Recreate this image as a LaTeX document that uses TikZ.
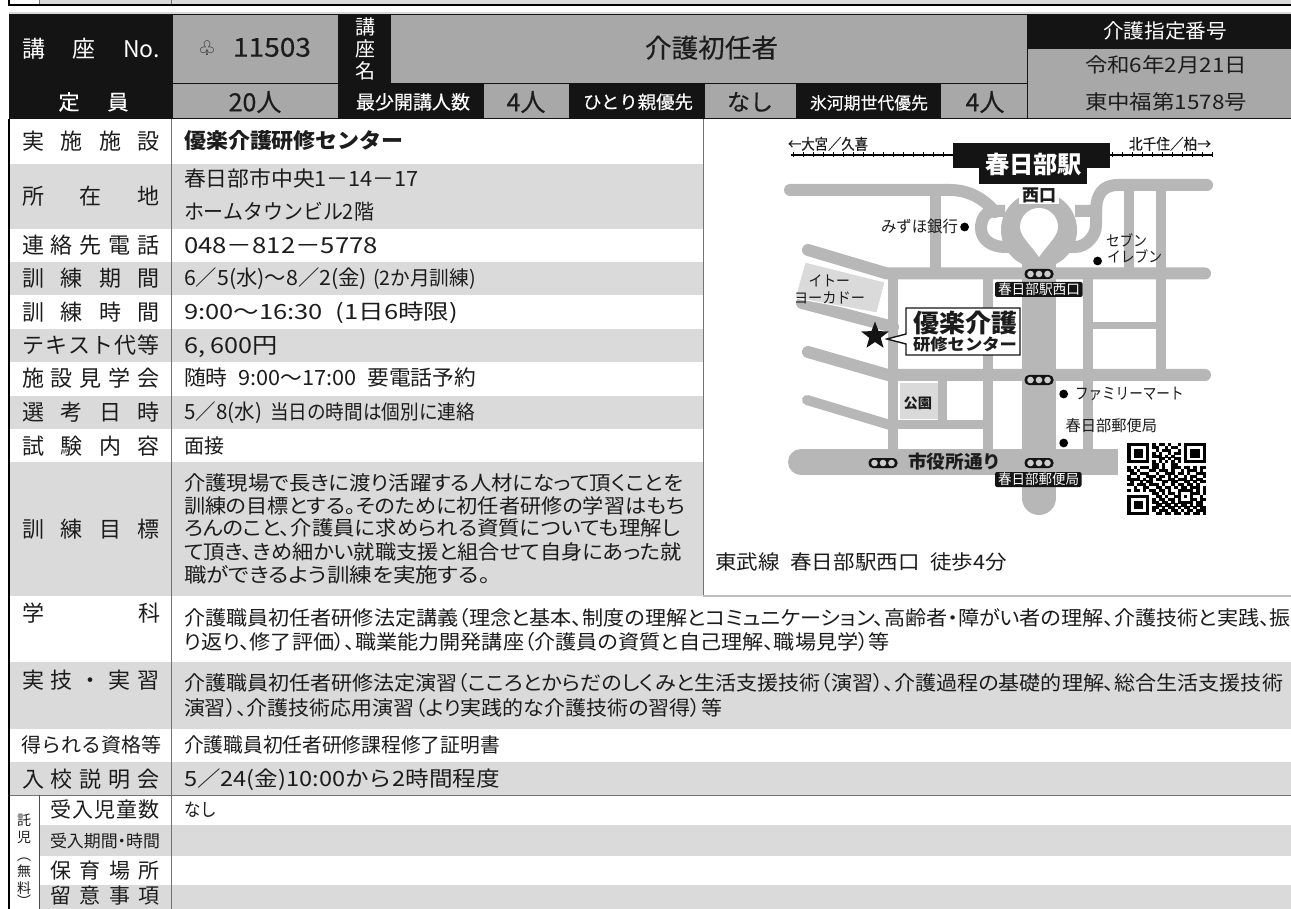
\documentclass[tikz,border=0pt]{standalone}
\usepackage{fontspec}
\setmainfont{Noto Sans CJK JP}
\newfontfamily\djv{DejaVu Sans}
\newfontfamily\pf{Noto Sans CJK JP}[RawFeature=+palt]
\newfontfamily\medf{Noto Sans CJK JP}[FakeBold=0.35]
\usetikzlibrary{shapes.geometric}
\definecolor{hk}{HTML}{141414}
\definecolor{hg}{HTML}{A8A8A8}
\definecolor{rowg}{HTML}{DADADA}
\definecolor{road}{HTML}{B7B7B7}
\definecolor{ink}{HTML}{1C1C1C}
\newcount\nid
\tikzset{txt/.style={inner sep=0pt,outer sep=0pt,text=ink},
 rd/.style={draw=road,line width=#1},
 rdr/.style={draw=road,line width=#1,line cap=round},
 rule/.style={draw=hk,line width=0.9pt},
 sepline/.style={draw=black!55,line width=0.8pt},
 blk/.style={fill=hk,rounded corners=2pt}}
\newcommand{\TF}[6][ink]{\global\advance\nid by 1
 \pgfmathsetmacro{\tfy}{#4+0.37*#5}
 \node[txt,text=#1,anchor=base west] (t\the\nid) at (#2,\tfy) {\fontsize{#5}{#5}\selectfont\resizebox{\dimexpr#3pt-#2pt\relax}{\height}{#6}};}
\newcommand{\TC}[5][ink]{\global\advance\nid by 1
 \pgfmathsetmacro{\tfy}{#3+0.37*#4}
 \node[txt,text=#1,anchor=base] (t\the\nid) at (#2,\tfy) {\fontsize{#4}{#4}\selectfont #5};}
\newcommand{\LB}[5]{\global\advance\nid by 1
 \pgfmathsetmacro{\tfy}{#3+0.37*#4}
 \node[txt,anchor=base west] (t\the\nid) at (#1,\tfy) {\fontsize{#4}{#4}\selectfont\makebox[\dimexpr#2pt-#1pt\relax][s]{#5}};}
\def\hs{\hfill}
\def\gap{\hspace{0.5em}}
\newcommand{\sig}[2]{\global\advance\nid by 1
 \fill[hk,rounded corners=4.5pt] (#1-14.5,#2-5) rectangle (#1+14.5,#2+5);
 \foreach \dx in {-8.5,0,8.5}{\fill[black!20] (#1+\dx,#2) circle[radius=3.3pt];}}
\newcommand{\dotm}[2]{\fill[black] (#1,#2) circle[radius=4.4pt];}
\newcount\qrc \newcount\qrr
\def\qrrow#1{\qrc=0 \qrscan#1\relax \global\advance\qrr by 1 }
\def\qrscan#1{\ifx#1\relax\else\if#11\fill[black] ({1127.3+3.14*\the\qrc},{443+2.88*\the\qrr}) rectangle ++(3.3,3.05);\fi\advance\qrc by 1 \expandafter\qrscan\fi}
\begin{document}
\begin{tikzpicture}[x=1pt,y=-1pt]
\useasboundingbox (0,0) rectangle (1291,909);
\clip (0,0) rectangle (1291,909);
\fill[white] (0,0) rectangle (1291,909);
% strip at the top
\fill[rowg] (40,0) rectangle (1291,4);
\draw[draw=black,line width=1.6pt] (9,0) -- (9,5) -- (1291,5);
\draw[sepline] (39,0) -- (39,4) (171,0) -- (171,4);
\fill[black!15] (9,12.5) rectangle (1291,14);
% header
\fill[hk] (9,14) rectangle (1291,119);
\fill[hg] (172.5,15) rectangle (338,83);
\fill[hg] (172.5,84.5) rectangle (338,118);
\fill[hg] (391,15) rectangle (1027,83);
\fill[hg] (484,84.5) rectangle (569,118);
\fill[hg] (705,84.5) rectangle (796,118);
\fill[hg] (941,84.5) rectangle (1027,118);
\fill[hg] (1028,49) rectangle (1291,118);
\LB{22}{160}{49}{23}{\color{white}講\hs 座\hs No.}
\node[txt,anchor=center] (clubs) at (207,48) {\fontsize{20}{20}\selectfont\djv ♧};
\TF{233}{311}{47}{26}{\medf 11503}
\TC[white]{365}{27}{20}{講}
\TC[white]{365}{49}{20}{座}
\TC[white]{365}{71}{20}{名}
\TF{645}{778}{48}{26}{\medf 介護初任者}
\TF[white]{1103}{1227}{31}{20}{介護指定番号}
\TF{1085}{1247}{65}{20}{令和6年2月21日}
\TF{1085}{1247}{102}{20}{東中福第1578号}
\TC[white]{69}{102}{21}{\medf 定}
\TC[white]{118}{102}{21}{\medf 員}
\TC{255}{102}{25}{\medf 20人}
\TF[white]{356}{470}{102}{19}{\medf 最少開講人数}
\TC{526}{102}{25}{\medf 4人}
\TF[white]{583}{693}{102}{18}{\medf ひとり親優先}
\TC{750}{102}{23}{\medf なし}
\TF[white]{810}{928}{103}{17}{\medf 氷河期世代優先}
\TC{985}{102}{25}{\medf 4人}
% body rows
\fill[rowg] (10,164) rectangle (703,229);
\fill[rowg] (10,262.5) rectangle (703,295.5);
\fill[rowg] (10,329) rectangle (703,362);
\fill[rowg] (10,396) rectangle (703,429);
\fill[rowg] (10,462) rectangle (703,596);
\fill[rowg] (10,662) rectangle (1291,729);
\fill[rowg] (10,762) rectangle (1291,795);
\fill[rowg] (39,825) rectangle (1291,856);
\fill[rowg] (39,885) rectangle (1291,909);
% map roads
\draw[rdr=12pt] (790,190) -- (950,190) .. controls (970,190) and (985,200) .. (995,212);
\draw[rdr=12pt] (1207,185) -- (1118,185) .. controls (1102,185) and (1096,195) .. (1096,212);
\draw[rd=11pt] (935,190) -- (935,270);
\draw[rd=10pt] (1129,186) -- (1129,273);
\draw[rd=10pt] (1161,186) -- (1161,375);
\draw[rd=10pt] (1087.5,273) -- (1087.5,450);
\draw[rd=10pt] (893,273) -- (893,450);
\draw[rd=10pt] (987.5,273) -- (987.5,450);
\draw[rd=7pt] (1087,326) -- (1161,326);
\draw[rdr=12pt] (808,250) -- (887,273.5) -- (1205,273.5);
\draw[rdr=12pt] (802,303) -- (893,327);
\draw[rdr=12pt] (808,352) -- (888,375) -- (1205,375);
\draw[rdr=10pt] (807,400) -- (890,425);
\draw[rd=9pt] (890,424.5) -- (987,424.5);
\draw[rd=9pt] (942,381) -- (942,420);
\draw[rdr=34pt] (1039,260) -- (1039,498);
\draw[rdr=26pt] (801,462) -- (900,462);
\fill[road] (800,449) rectangle (1118,475);
\fill[road] (1039,230) circle[radius=38pt];
\draw[rd=12pt] (1005,211) -- (995,211) .. controls (985,211) and (981,220) .. (981,228) .. controls (981,240) and (992,247) .. (1005,247) -- (1030,247);
\draw[rd=12pt] (1075,211) -- (1096,211) -- (1096,225) .. controls (1096,236) and (1086,247) .. (1075,247) -- (1040,247);
\fill[white] (1039,257) .. controls (1030,244) and (1020,236) .. (1020,227) .. controls (1020,216) and (1029,208) .. (1039,208) .. controls (1049,208) and (1058,216) .. (1058,227) .. controls (1058,236) and (1048,244) .. (1039,257) -- cycle;
\fill[rowg] (900,383) rectangle (937.5,419);
\fill[rowg,draw=white,line width=1pt] (805,262) -- (885,282) -- (877,313) -- (795,298) -- cycle;
% railway and station
\draw[black,line width=1.4pt] (790.5,155) -- (1212,155);
\foreach \tx in {793,803,...,953}{\draw[black,line width=1pt] (\tx,152.5) -- (\tx,157.5);}
\foreach \tx in {1112,1122,...,1212}{\draw[black,line width=1pt] (\tx,152.5) -- (\tx,157.5);}
\fill[hk] (952.5,143) rectangle (1110,168);
\fill[hk] (979,168) rectangle (1087,184);
\TF[white]{985}{1082}{165}{24}{\bfseries 春日部駅}
\fill[white] (1019,187) rectangle (1059,204);
\TF{1022}{1056}{195.5}{17}{\bfseries 西口}
\TF{788}{868}{144}{15}{\medf ←大宮／久喜}
\TF{1129}{1211}{144}{15}{\medf 北千住／柏→}
% landmarks
\TF{881}{958}{227}{16}{みずほ銀行}
\dotm{964.6}{227}
\TF{1106}{1147}{241}{15}{セブン}
\TF{1107}{1162}{257}{15}{イレブン}
\dotm{1097.6}{261}
\TF{808.5}{850}{281}{15}{イトー}
\TF{794}{865}{298}{15}{ヨーカドー}
\dotm{1063.7}{394}
\TF{1075}{1183.6}{394}{16}{ファミリーマート}
\TF{1065.6}{1157}{426}{15.5}{春日部郵便局}
\dotm{1063.7}{443}
\TF{903.5}{932}{403}{14}{\bfseries 公園}
\TF{908}{1001.5}{462}{18}{\bfseries 市役所通り}
\sig{1039}{274}
\sig{1039}{380}
\sig{883}{463}
\sig{1039}{463}
\fill[blk] (995,282) rectangle (1082.6,297);
\TF[white]{998}{1080}{289.5}{14}{春日部駅西口}
\fill[blk] (995,472) rectangle (1081.5,487);
\TF[white]{998}{1079}{479.5}{14}{春日部郵便局}
% callout and star
\draw[fill=white,draw=hk,line width=1.4pt] (906,308) -- (1020,308) -- (1020,355) -- (906,355) -- (906,344) -- (887,339) -- (906,334) -- cycle;
\TF{913}{1017}{323}{25}{\bfseries 優楽介護}
\TF{913}{1017}{345}{16}{\bfseries 研修センター}
\node[star,star points=5,star point ratio=2.4,fill=hk,draw=none,inner sep=0pt,minimum size=29pt] (starmark) at (875,336) {};
% QR
\qrrow{1111111 0 101101001 0 1111111}
\qrrow{1000001 0 110010110 0 1000001}
\qrrow{1011101 0 010111001 0 1011101}
\qrrow{1011101 0 101001011 0 1011101}
\qrrow{1011101 0 111010100 0 1011101}
\qrrow{1000001 0 001101011 0 1000001}
\qrrow{1111111 0 101010101 0 1111111}
\qrrow{00000000 110100110 00000000}
\qrrow{1010111011010011101101011}
\qrrow{1101000110111010010111010}
\qrrow{0110111001001110110100111}
\qrrow{1001001110110101001011001}
\qrrow{1111010101100110111010110}
\qrrow{0100101100011011001101011}
\qrrow{1101110111010010110110100}
\qrrow{0010011001101101011011101}
\qrrow{1011010110110100 11111 0101}
\qrrow{00000000 11010110 10001 1101}
\qrrow{1111111 0 01101001 10101 0010}
\qrrow{1000001 0 10110110 10001 1011}
\qrrow{1011101 0 11011010 11111 0110}
\qrrow{1011101 0 01101101011010110}
\qrrow{1011101 0 11010110101101011}
\qrrow{1000001 0 10111011010110111}
\qrrow{1111111 0 01101101101101101}
\TF{715}{1007}{562}{20}{東武線\gap 春日部駅西口\gap 徒歩4分}
% rules
\draw[draw=black,line width=1.6pt] (9,119) -- (9,909);
\draw[sepline] (171,119) -- (171,909);
\draw[sepline] (703,119) -- (703,596);
\draw[draw=black!25,line width=1.2pt] (703,596) -- (1291,596);
\draw[draw=black!55,line width=0.7pt] (10,795) -- (1291,795);
\draw[draw=black!70,line width=0.8pt] (39,795) -- (39,909);
\draw[rule] (391,83.5) -- (1027.5,83.5);
\draw[rule] (1027.5,14) -- (1027.5,119);
\draw[draw=hk,line width=1.2pt] (9,118.5) -- (1291,118.5);
% row labels
\LB{22}{160}{141}{22}{実\hs 施\hs 施\hs 設}
\LB{22}{160}{196}{22}{所\hs 在\hs 地}
\LB{22}{160}{245}{22}{連\hs 絡\hs 先\hs 電\hs 話}
\LB{22}{160}{278}{22}{訓\hs 練\hs 期\hs 間}
\LB{22}{160}{312}{22}{訓\hs 練\hs 時\hs 間}
\LB{22}{160}{345}{22}{テ\hs キ\hs ス\hs ト\hs 代\hs 等}
\LB{22}{160}{378}{22}{施\hs 設\hs 見\hs 学\hs 会}
\LB{22}{160}{412}{22}{選\hs 考\hs 日\hs 時}
\LB{22}{160}{446}{22}{試\hs 験\hs 内\hs 容}
\LB{22}{160}{529}{22}{訓\hs 練\hs 目\hs 標}
\LB{22}{160}{613}{22}{学\hs 科}
\LB{22}{160}{680}{22}{実\hs 技\hs ・\hs 実\hs 習}
\LB{21}{161}{745}{20}{得\hs ら\hs れ\hs る\hs 資\hs 格\hs 等}
\LB{22}{160}{779}{22}{入\hs 校\hs 説\hs 明\hs 会}
\LB{50}{160}{810}{21}{受\hs 入\hs 児\hs 童\hs 数}
\TF{50}{160}{841}{17}{\pf 受入期間・時間}
\LB{50}{160}{871}{21}{保\hs 育\hs 場\hs 所}
\LB{50}{160}{896}{21}{留\hs 意\hs 事\hs 項}
\TC{24}{820}{14}{託}
\TC{24}{837}{14}{児}
\TC{24}{855}{14}{︵}
\TC{24}{871}{14}{無}
\TC{24}{888}{14}{料}
\TC{24}{901}{14}{︶}
% row values
\TF{184}{404}{141}{21}{\bfseries 優楽介護研修センター}
\TF{184}{419}{179}{21}{春日部市中央1－14－17}
\TF{184}{374}{212}{21}{ホームタウンビル2階}
\TF{184}{378}{245}{22}{048－812－5778}
\TF{184}{367}{278}{21}{6／5(水)～8／2(金)}
\TF{373}{476}{278}{20}{(2か月訓練)}
\TF{184}{458}{312}{21}{9:00～16:30\gap(1日6時限)}
\TF{184}{278}{345}{22}{6, 600円}
\TF{184}{476}{378}{21}{随時\gap 9:00～17:00\gap 要電話予約}
\TF{184}{262}{412}{21}{5／8(水)}
\TF{270}{475}{412}{20}{当日の時間は個別に連絡}
\TF{184}{224}{446}{20}{面接}
\TF{184}{683}{483}{20}{\pf 介護現場で長きに渡り活躍する人材になって頂くことを}
\TF{184}{685}{506}{20}{\pf 訓練の目標とする。そのために初任者研修の学習はもち}
\TF{184}{680}{528}{20}{\pf ろんのこと、介護員に求められる資質についても理解し}
\TF{184}{682}{552}{20}{\pf て頂き、きめ細かい就職支援と組合せて自身にあった就}
\TF{184}{490}{575}{20}{\pf 職ができるよう訓練を実施する。}
\TF{184}{1291}{618}{20}{\pf 介護職員初任者研修法定講義（理念と基本、制度の理解とコミュニケーション、高齢者・障がい者の理解、介護技術と実践、振}
\TF{184}{890}{642}{20}{\pf り返り、修了評価）、職業能力開発講座（介護員の資質と自己理解、職場見学）等}
\TF{184}{1283}{683}{20}{\pf 介護職員初任者研修法定演習（こころとからだのしくみと生活支援技術（演習）、介護過程の基礎的理解、総合生活支援技術}
\TF{184}{722}{708}{20}{\pf 演習）、介護技術応用演習（より実践的な介護技術の習得）等}
\TF{184}{500}{745}{20}{介護職員初任者研修課程修了証明書}
\TF{184}{500}{779}{21}{5／24(金)10:00から2時間程度}
\TF{184}{217}{810}{18}{なし}
\end{tikzpicture}
\end{document}
